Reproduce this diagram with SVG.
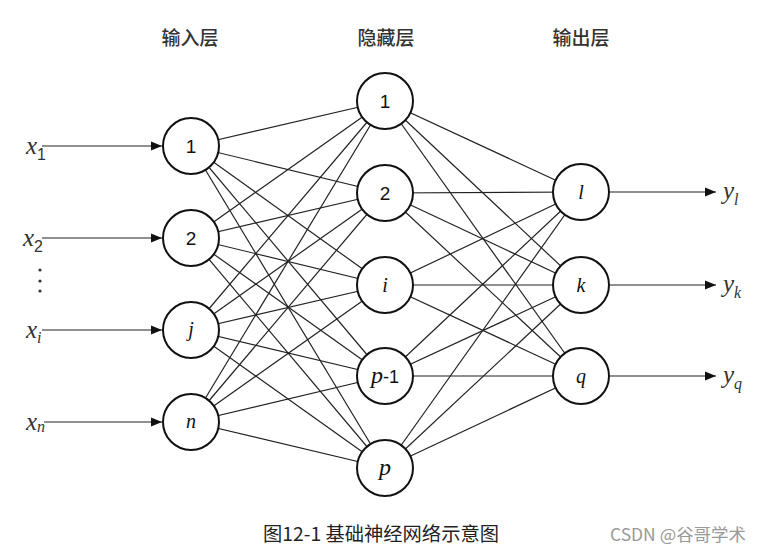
<svg xmlns="http://www.w3.org/2000/svg" width="762" height="553" viewBox="0 0 762 553">
<style>
.n{fill:#fff;stroke:#111;stroke-width:2}
.c line{stroke:#222;stroke-width:1.2}
.a{stroke:#111;stroke-width:1.5;marker-end:url(#ar)}
.h{font-family:"Noto Sans CJK SC",sans-serif;font-size:19px;font-weight:500;fill:#333;text-anchor:middle}
.s{font-family:"Liberation Sans",Arial,sans-serif;font-size:19px;fill:#111;text-anchor:middle}
.i{font-family:"Liberation Serif","Times New Roman",serif;font-style:italic;font-size:20px;fill:#111;text-anchor:middle}
.x{font-family:"Liberation Serif","Times New Roman",serif;font-style:italic;font-size:25px;fill:#333}
.sb{font-family:"Liberation Sans",Arial,sans-serif;font-size:16px;fill:#333}
.si{font-family:"Liberation Serif",serif;font-style:italic;font-size:16px;fill:#333}
</style>
<defs>
<marker id="ar" viewBox="0 0 10 10" refX="10" refY="5" markerWidth="11" markerHeight="11" markerUnits="userSpaceOnUse" orient="auto">
<path d="M0,1 L10,5 L0,9 z" fill="#111"/>
</marker>
</defs>
<rect width="762" height="553" fill="#fff"/>
<g id="headers">
<text class="h" x="190" y="45">输入层</text>
<text class="h" x="386" y="45">隐藏层</text>
<text class="h" x="581" y="45">输出层</text>
</g>
<g id="connectors" class="c">
<line x1="191" y1="146" x2="385" y2="101"/><line x1="191" y1="146" x2="385" y2="193"/><line x1="191" y1="146" x2="385" y2="285"/><line x1="191" y1="146" x2="385" y2="376"/><line x1="191" y1="146" x2="385" y2="468"/>
<line x1="191" y1="238" x2="385" y2="101"/><line x1="191" y1="238" x2="385" y2="193"/><line x1="191" y1="238" x2="385" y2="285"/><line x1="191" y1="238" x2="385" y2="376"/><line x1="191" y1="238" x2="385" y2="468"/>
<line x1="191" y1="330" x2="385" y2="101"/><line x1="191" y1="330" x2="385" y2="193"/><line x1="191" y1="330" x2="385" y2="285"/><line x1="191" y1="330" x2="385" y2="376"/><line x1="191" y1="330" x2="385" y2="468"/>
<line x1="191" y1="422" x2="385" y2="101"/><line x1="191" y1="422" x2="385" y2="193"/><line x1="191" y1="422" x2="385" y2="285"/><line x1="191" y1="422" x2="385" y2="376"/><line x1="191" y1="422" x2="385" y2="468"/>
<line x1="385" y1="101" x2="581" y2="192"/><line x1="385" y1="101" x2="581" y2="285"/><line x1="385" y1="101" x2="581" y2="376"/>
<line x1="385" y1="193" x2="581" y2="192"/><line x1="385" y1="193" x2="581" y2="285"/><line x1="385" y1="193" x2="581" y2="376"/>
<line x1="385" y1="285" x2="581" y2="192"/><line x1="385" y1="285" x2="581" y2="285"/><line x1="385" y1="285" x2="581" y2="376"/>
<line x1="385" y1="376" x2="581" y2="192"/><line x1="385" y1="376" x2="581" y2="285"/><line x1="385" y1="376" x2="581" y2="376"/>
<line x1="385" y1="468" x2="581" y2="192"/><line x1="385" y1="468" x2="581" y2="285"/><line x1="385" y1="468" x2="581" y2="376"/>
<line class="a" x1="42" y1="146" x2="162" y2="146"/>
<line class="a" x1="42" y1="238" x2="162" y2="238"/>
<line class="a" x1="42" y1="330" x2="162" y2="330"/>
<line class="a" x1="44" y1="422" x2="162" y2="422"/>
<line class="a" x1="610" y1="192" x2="716" y2="192"/>
<line class="a" x1="610" y1="285" x2="716" y2="285"/>
<line class="a" x1="610" y1="376" x2="716" y2="376"/>
</g>
<g id="in1"><circle class="n" cx="191" cy="146" r="28"/><text class="s" x="191" y="153">1</text></g>
<g id="in2"><circle class="n" cx="191" cy="238" r="28"/><text class="s" x="191" y="245">2</text></g>
<g id="inj"><circle class="n" cx="191" cy="330" r="28"/><text class="i" x="191" y="336">j</text></g>
<g id="inn"><circle class="n" cx="191" cy="422" r="28"/><text class="i" x="191" y="428">n</text></g>
<g id="h1"><circle class="n" cx="385" cy="101" r="28"/><text class="s" x="385" y="108">1</text></g>
<g id="h2"><circle class="n" cx="385" cy="193" r="28"/><text class="s" x="385" y="200">2</text></g>
<g id="hi"><circle class="n" cx="385" cy="285" r="28"/><text class="i" x="385" y="292">i</text></g>
<g id="hp1"><circle class="n" cx="385" cy="376" r="28"/><text x="385" y="383" text-anchor="middle"><tspan class="i" style="font-size:24px">p</tspan><tspan class="s" style="font-size:18px">-1</tspan></text></g>
<g id="hp"><circle class="n" cx="385" cy="468" r="28"/><text class="i" x="385" y="475" style="font-size:24px">p</text></g>
<g id="ol"><circle class="n" cx="581" cy="192" r="28"/><text class="i" x="581" y="199">l</text></g>
<g id="ok"><circle class="n" cx="581" cy="285" r="28"/><text class="i" x="581" y="292">k</text></g>
<g id="oq"><circle class="n" cx="581" cy="376" r="28"/><text class="i" x="581" y="383">q</text></g>
<g id="inputs">
<text x="26" y="154"><tspan class="x">x</tspan><tspan class="sb" dy="6">1</tspan></text>
<text x="23" y="246"><tspan class="x">x</tspan><tspan class="sb" dy="6">2</tspan></text>
<g fill="#333"><circle cx="40" cy="270" r="1.6"/><circle cx="40" cy="281" r="1.6"/><circle cx="40" cy="291" r="1.6"/></g>
<text x="26" y="338"><tspan class="x">x</tspan><tspan class="si" dy="5">i</tspan></text>
<text x="26" y="430"><tspan class="x">x</tspan><tspan class="si" dy="2">n</tspan></text>
</g>
<g id="outputs">
<text x="723" y="199"><tspan class="x">y</tspan><tspan class="si" dy="6">l</tspan></text>
<text x="723" y="292"><tspan class="x">y</tspan><tspan class="si" dy="6">k</tspan></text>
<text x="723" y="383"><tspan class="x">y</tspan><tspan class="si" dy="6">q</tspan></text>
</g>
<text x="263" y="541" textLength="236" lengthAdjust="spacingAndGlyphs" style="font-family:'Noto Sans CJK SC',sans-serif;font-size:19px;fill:#222">图12-1 基础神经网络示意图</text>
<text x="610" y="541" textLength="136" lengthAdjust="spacingAndGlyphs" style="font-family:'Noto Sans CJK SC',sans-serif;font-size:17px;fill:#999">CSDN @谷哥学术</text>
</svg>
